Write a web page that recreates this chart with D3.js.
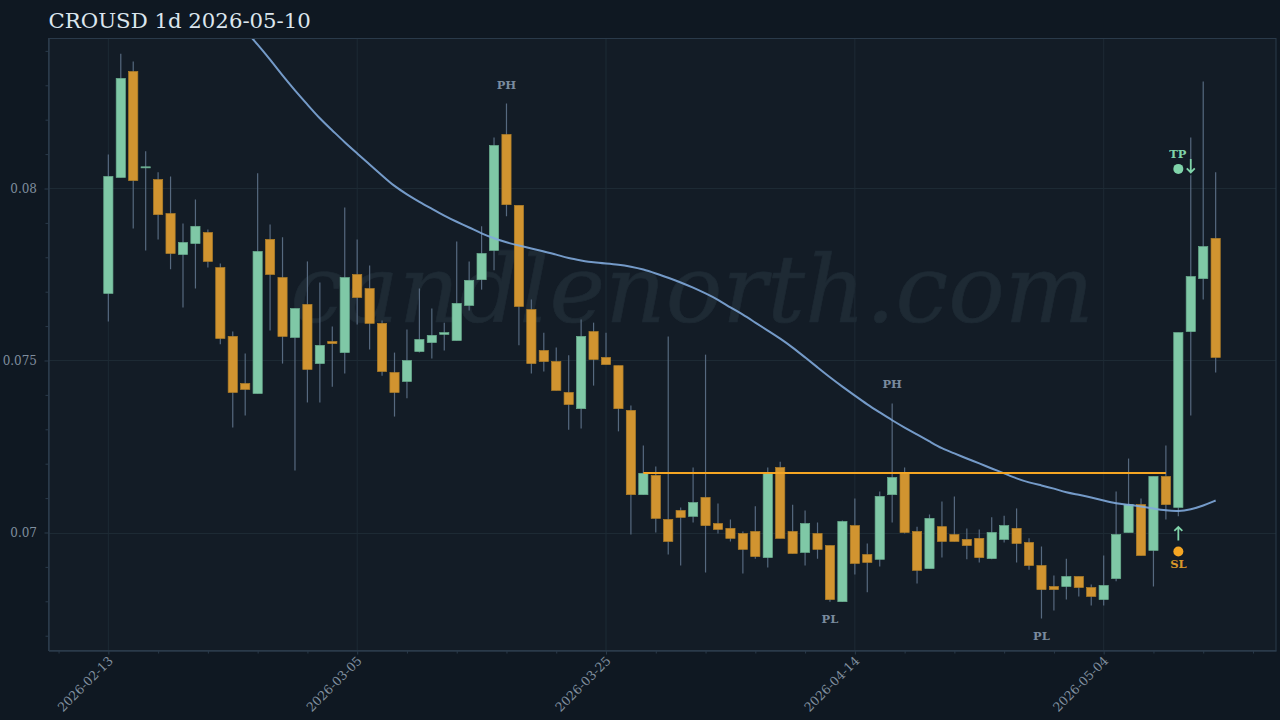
<!DOCTYPE html>
<html>
<head>
<meta charset="utf-8">
<script src="https://cdn.jsdelivr.net/npm/d3@7/dist/d3.min.js"></script>
<style>
  html, body { margin: 0; padding: 0; background: #0f1822; }
  svg { display: block; }
  text { font-family: "DejaVu Serif", serif; }
</style>
</head>
<body>
<div id="app"></div>
<script>
// Daily candles, first one on startDate
const startDate = "2026-02-13";
const opens = [
  .07695,.08032,.08340,.08060,.08026,.07927,.07808,.07840,.07872,.07770,
  .07570,.07433,.07404,.07852,.07741,.07567,.07663,.07491,.07555,.07523,
  .07750,.07709,.07608,.07465,.07439,.07526,.07552,.07576,.07558,.07660,
  .07735,.07820,.08157,.07951,.07648,.07529,.07497,.07407,.07360,.07584,
  .07509,.07485,.07355,.07110,.07166,.07038,.07064,.07047,.07102,.07026,
  .07012,.06997,.07003,.06927,.07189,.07003,.06942,.06997,.06962,.06799,
  .07020,.06936,.06922,.07110,.07172,.07003,.06895,.07017,.06994,.06980,
  .06983,.06924,.06980,.07012,.06971,.06904,.06843,.06843,.06872,.06840,
  .06805,.06866,.07000,.07081,.06948,.07163,.07073,.07584,.07738,.07855
];
const closes = [
  .08035,.08320,.08023,.08063,.07924,.07811,.07843,.07890,.07788,.07564,
  .07407,.07416,.07817,.07750,.07570,.07651,.07474,.07544,.07549,.07741,
  .07683,.07608,.07468,.07407,.07500,.07561,.07573,.07581,.07666,.07733,
  .07811,.08125,.07953,.07657,.07491,.07497,.07413,.07372,.07570,.07503,
  .07488,.07360,.07110,.07172,.07041,.06974,.07044,.07087,.07020,.07009,
  .06983,.06951,.06930,.07172,.06983,.06939,.07026,.06951,.06805,.07032,
  .06910,.06913,.07105,.07160,.07000,.06890,.07041,.06974,.06974,.06962,
  .06927,.07000,.07020,.06968,.06904,.06834,.06834,.06872,.06840,.06814,
  .06846,.06994,.07081,.06933,.07163,.07081,.07581,.07744,.07831,.07509
];
const highs = [
  .08099,.08392,.08369,.08108,.08047,.08035,.07898,.07968,.07881,.07782,
  .07584,.07520,.08044,.07895,.07858,.07651,.07788,.07727,.07599,.07945,
  .07852,.07776,.07616,.07523,.07590,.07709,.07651,.07610,.07846,.07788,
  .07890,.08148,.08247,.07951,.07677,.07581,.07538,.07515,.07619,.07610,
  .07581,.07485,.07369,.07253,.07192,.07570,.07073,.07189,.07517,.07084,
  .07038,.07003,.07076,.07189,.07206,.07081,.07064,.07029,.06962,.07035,
  .07099,.06968,.07119,.07375,.07189,.07017,.07052,.07090,.07105,.07012,
  .07009,.07044,.07049,.07070,.06983,.06959,.06875,.06924,.06872,.06849,
  .06933,.07119,.07215,.07099,.07163,.07253,.07581,.08148,.08311,.08047
];
const lows = [
  .07613,.08032,.07884,.07820,.07852,.07765,.07654,.07709,.07770,.07547,
  .07305,.07340,.07404,.07587,.07491,.07180,.07378,.07378,.07424,.07462,
  .07605,.07532,.07456,.07337,.07390,.07523,.07506,.07529,.07558,.07645,
  .07706,.07762,.07919,.07544,.07462,.07468,.07413,.07299,.07302,.07427,
  .07488,.07294,.06994,.07110,.07000,.06936,.06904,.07029,.06884,.06997,
  .06974,.06881,.06924,.06898,.06983,.06939,.06904,.06924,.06799,.06799,
  .06878,.06826,.06901,.07029,.06997,.06852,.06895,.06927,.06974,.06922,
  .06913,.06922,.06971,.06913,.06892,.06750,.06773,.06805,.06814,.06788,
  .06788,.06858,.07000,.06933,.06843,.07038,.07047,.07340,.07677,.07465
];

// Moving average, starts at candle 11 (the earlier part is off the top of the chart)
const maStart = 11;
const maValues = [
  .08459,.08419,.08375,.08328,.08285,.08244,.08203,.08169,.08134,.08102,
  .08070,.08038,.08006,.07983,.07961,.07941,.07921,.07903,.07887,.07869,
  .07855,.07843,.07834,.07826,.07817,.07808,.07797,.07791,.07785,.07782,
  .07779,.07773,.07765,.07753,.07741,.07727,.07712,.07695,.07677,.07654,
  .07634,.07610,.07587,.07564,.07538,.07509,.07480,.07451,.07424,.07398,
  .07372,.07349,.07326,.07305,.07285,.07265,.07244,.07230,.07215,.07201,
  .07186,.07172,.07157,.07145,.07137,.07128,.07116,.07110,.07102,.07093,
  .07084,.07081,.07076,.07070,.07064,.07061,.07067,.07078,.07093
];

// Horizontal level
const levelPrice = 0.07172;
const levelFrom = 43;
const levelTo = 85;

// Pivot labels
const pivotIndex = [32, 63, 58, 75];
const pivotLabel = ["PH", "PH", "PL", "PL"];

// Entry signal markers
const tpIndex = 86;
const tpArrowIndex = 87;
const tpPrice = 0.08057;
const slIndex = 86;
const slPrice = 0.06945;

// Axis ticks
const yTicks = [0.07, 0.075, 0.08];
const yMinorTicks = [0.067, 0.068, 0.069, 0.071, 0.072, 0.073, 0.074, 0.076, 0.077, 0.078, 0.079, 0.081, 0.082, 0.083, 0.084];
const xTickLabels = ["2026-02-13", "2026-03-05", "2026-03-25", "2026-04-14", "2026-05-04"];
const xMinorOffsets = [-4, 4, 8, 12, 16, 24, 28, 32, 36, 44, 48, 52, 56, 64, 68, 72, 76, 84, 88, 92];

const width = 1280;
const height = 720;
const margin = { top: 38.5, right: 4, bottom: 69.5, left: 48.5 };

const green = "#7fc8a6";
const greenEdge = "#6aae8f";
const orange = "#d19430";
const orangeEdge = "#b07f28";
const wickColor = "#56697f";
const gridColor = "#1d2a34";
const spineColor = "#2a3a4a";
const tickText = "#808f9f";

const parseDay = d3.utcParse("%Y-%m-%d");
const day0 = parseDay(startDate);
const dayAt = i => d3.utcDay.offset(day0, i);
const dayMs = 86400000;

const xScale = d3
  .scaleUtc()
  .domain([new Date(+day0 - 4.81 * dayMs), new Date(+day0 + 93.85 * dayMs)])
  .range([margin.left, width - margin.right]);

const yScale = d3
  .scaleLinear()
  .domain([0.06657, 0.08436])
  .range([height - margin.bottom, margin.top]);

const xAt = i => xScale(dayAt(i));

const svg = d3
  .select("#app")
  .append("svg")
  .attr("width", width)
  .attr("height", height);

svg.append("rect").attr("width", width).attr("height", height).attr("fill", "#0f1822");

// Plot background
svg
  .append("rect")
  .attr("x", margin.left)
  .attr("y", margin.top)
  .attr("width", width - margin.left - margin.right)
  .attr("height", height - margin.top - margin.bottom)
  .attr("fill", "#131c26");

svg
  .append("defs")
  .append("clipPath")
  .attr("id", "plot-clip")
  .append("rect")
  .attr("x", margin.left)
  .attr("y", margin.top)
  .attr("width", width - margin.left - margin.right)
  .attr("height", height - margin.top - margin.bottom);

// Grid
const majorDays = xTickLabels.map(parseDay);
svg
  .append("g")
  .selectAll("line.vgrid")
  .data(majorDays)
  .join("line")
  .attr("x1", d => xScale(d))
  .attr("x2", d => xScale(d))
  .attr("y1", margin.top)
  .attr("y2", height - margin.bottom)
  .attr("stroke", gridColor);
svg
  .append("g")
  .selectAll("line.hgrid")
  .data(yTicks)
  .join("line")
  .attr("x1", margin.left)
  .attr("x2", width - margin.right)
  .attr("y1", d => Math.round(yScale(d)) + 0.5)
  .attr("y2", d => Math.round(yScale(d)) + 0.5)
  .attr("stroke", gridColor);

// Watermark
svg
  .append("text")
  .text("candlenorth.com")
  .attr("x", 692)
  .attr("y", 322)
  .attr("text-anchor", "middle")
  .attr("font-size", 94)
  .attr("font-style", "italic")
  .attr("fill", "#1e2a34")
  .attr("stroke", "#1e2a34")
  .attr("stroke-width", 0.6);

const plot = svg.append("g").attr("clip-path", "url(#plot-clip)");

// Wicks
plot
  .selectAll("line.wick")
  .data(opens)
  .join("line")
  .attr("class", "wick")
  .attr("x1", (d, i) => xAt(i))
  .attr("x2", (d, i) => xAt(i))
  .attr("y1", (d, i) => yScale(highs[i]))
  .attr("y2", (d, i) => yScale(lows[i]))
  .attr("stroke", wickColor)
  .attr("stroke-width", 1.2);

// Bodies
const bodyWidth = 9.2;
plot
  .selectAll("rect.body")
  .data(opens)
  .join("rect")
  .attr("class", "body")
  .attr("x", (d, i) => xAt(i) - bodyWidth / 2)
  .attr("y", (d, i) => yScale(Math.max(d, closes[i])))
  .attr("width", bodyWidth)
  .attr("height", (d, i) => Math.max(1, Math.abs(yScale(d) - yScale(closes[i]))))
  .attr("fill", (d, i) => (closes[i] >= d ? green : orange))
  .attr("stroke", (d, i) => (closes[i] >= d ? greenEdge : orangeEdge))
  .attr("stroke-width", 0.7);

// Moving average
const maLine = d3
  .line()
  .x((d, i) => xAt(i + maStart))
  .y(d => yScale(d))
  .curve(d3.curveBasis);
plot
  .append("path")
  .attr("d", maLine(maValues))
  .attr("fill", "none")
  .attr("stroke", "#7fa9da")
  .attr("stroke-width", 2)
  .attr("stroke-opacity", 0.9);

// Level line
plot
  .append("line")
  .attr("x1", xAt(levelFrom))
  .attr("x2", xAt(levelTo))
  .attr("y1", Math.round(yScale(levelPrice)))
  .attr("y2", Math.round(yScale(levelPrice)))
  .attr("stroke", "#f5a623")
  .attr("stroke-width", 2);

// PH / PL labels
svg
  .selectAll("text.pivot")
  .data(pivotIndex)
  .join("text")
  .attr("class", "pivot")
  .text((d, i) => pivotLabel[i])
  .attr("x", d => xAt(d))
  .attr("y", (d, i) => (pivotLabel[i] === "PH" ? yScale(highs[d]) - 15 : yScale(lows[d]) + 21))
  .attr("text-anchor", "middle")
  .attr("font-size", 11.5)
  .attr("font-weight", "bold")
  .attr("fill", "#7a8b9e");

// Arrow glyph drawn from a path, dir 1 is down, -1 is up
function arrow(cx, cy, dir, color) {
  const g = svg.append("g").attr("transform", `translate(${cx},${cy}) scale(1,${dir})`);
  g.append("path")
    .attr("d", "M0,-7V6M-4,2.5L0,6.5L4,2.5")
    .attr("fill", "none")
    .attr("stroke", "#131c26")
    .attr("stroke-width", 4.5);
  g.append("path")
    .attr("d", "M0,-7V6M-4,2.5L0,6.5L4,2.5")
    .attr("fill", "none")
    .attr("stroke", color)
    .attr("stroke-width", 1.8);
}

// TP marker
const tpGreen = "#80d4aa";
svg
  .append("circle")
  .attr("cx", xAt(tpIndex))
  .attr("cy", yScale(tpPrice))
  .attr("r", 5)
  .attr("fill", tpGreen);
arrow(xAt(tpArrowIndex), yScale(tpPrice) - 3, 1, tpGreen);
svg
  .append("text")
  .text("TP")
  .attr("x", xAt(tpIndex) - 0.5)
  .attr("y", yScale(tpPrice) - 11)
  .attr("text-anchor", "middle")
  .attr("font-size", 11.5)
  .attr("font-weight", "bold")
  .attr("fill", tpGreen);

// SL marker
const slOrange = "#f5a623";
svg
  .append("circle")
  .attr("cx", xAt(slIndex))
  .attr("cy", yScale(slPrice))
  .attr("r", 5)
  .attr("fill", slOrange);
arrow(xAt(slIndex), yScale(slPrice) - 18, -1, tpGreen);
svg
  .append("text")
  .text("SL")
  .attr("x", xAt(slIndex))
  .attr("y", yScale(slPrice) + 17)
  .attr("text-anchor", "middle")
  .attr("font-size", 11.5)
  .attr("font-weight", "bold")
  .attr("fill", "#d9982a");

// Axes
const xAxis = d3.axisBottom(xScale).tickValues(majorDays).tickSize(4).tickSizeOuter(0).tickFormat(d3.utcFormat("%Y-%m-%d"));
const xMinorAxis = d3
  .axisBottom(xScale)
  .tickValues(xMinorOffsets.map(dayAt))
  .tickSize(3)
  .tickSizeOuter(0)
  .tickFormat("");
const yAxis = d3.axisLeft(yScale).tickValues(yTicks).tickSize(4).tickSizeOuter(0).tickFormat(d3.format(""));
const yMinorAxis = d3.axisLeft(yScale).tickValues(yMinorTicks).tickSize(3).tickSizeOuter(0).tickFormat("");

const gx = svg.append("g").attr("transform", `translate(0,${height - margin.bottom})`).call(xAxis);
gx.selectAll("text")
  .attr("text-anchor", "end")
  .attr("dx", 0)
  .attr("dy", 0)
  .attr("y", 0)
  .attr("x", 0)
  .attr("transform", "translate(5,11) rotate(-45)")
  .attr("font-size", 12.5)
  .attr("fill", tickText);
svg.append("g").attr("transform", `translate(0,${height - margin.bottom})`).call(xMinorAxis);

const gy = svg.append("g").attr("transform", `translate(${margin.left},0)`).call(yAxis);
gy.selectAll("text").attr("x", -11.5).attr("font-size", 12).attr("fill", tickText);
svg.append("g").attr("transform", `translate(${margin.left},0)`).call(yMinorAxis);

svg.selectAll(".domain, .tick line").attr("stroke", spineColor);

// Frame on top and right
svg
  .append("rect")
  .attr("x", margin.left)
  .attr("y", margin.top)
  .attr("width", width - margin.left - margin.right)
  .attr("height", height - margin.top - margin.bottom)
  .attr("fill", "none")
  .attr("stroke", spineColor);

// Title
svg
  .append("text")
  .text("CROUSD 1d 2026-05-10")
  .attr("x", 48.5)
  .attr("y", 28)
  .attr("font-size", 21.25)
  .attr("fill", "#dce6ee");
</script>
</body>
</html>
